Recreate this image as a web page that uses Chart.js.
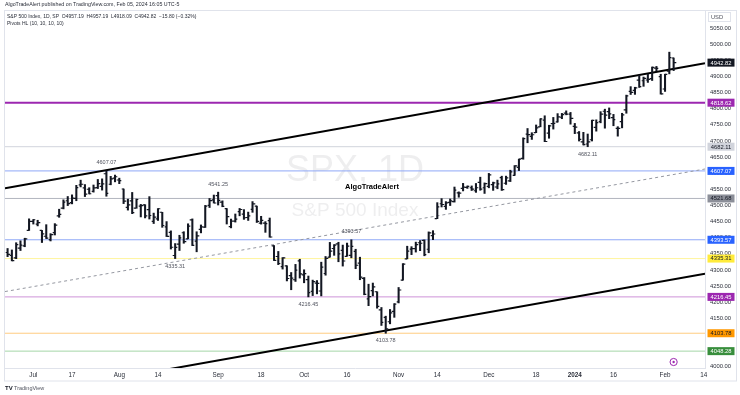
<!DOCTYPE html>
<html>
<head>
<meta charset="utf-8">
<script src="https://cdn.jsdelivr.net/npm/chart.js@4.4.1/dist/chart.umd.min.js"></script>
<style>
html,body{margin:0;padding:0;background:#fff}
#wrap{width:740px;height:395px}
</style>
</head>
<body>
<div id="wrap"><canvas id="c" width="740" height="395"></canvas></div>
<script>
// daily bars, S&P 500, Jun 23 2023 .. Feb 5 2024
const dates = [
 'Jun 23','Jun 26','Jun 27','Jun 28','Jun 29','Jun 30',
 'Jul 3','Jul 5','Jul 6','Jul 7','Jul 10','Jul 11','Jul 12','Jul 13','Jul 14','Jul 17','Jul 18','Jul 19','Jul 20','Jul 21','Jul 24','Jul 25','Jul 26','Jul 27','Jul 28','Jul 31',
 'Aug 1','Aug 2','Aug 3','Aug 4','Aug 7','Aug 8','Aug 9','Aug 10','Aug 11','Aug 14','Aug 15','Aug 16','Aug 17','Aug 18','Aug 21','Aug 22','Aug 23','Aug 24','Aug 25','Aug 28','Aug 29','Aug 30','Aug 31',
 'Sep 1','Sep 5','Sep 6','Sep 7','Sep 8','Sep 11','Sep 12','Sep 13','Sep 14','Sep 15','Sep 18','Sep 19','Sep 20','Sep 21','Sep 22','Sep 25','Sep 26','Sep 27','Sep 28','Sep 29',
 'Oct 2','Oct 3','Oct 4','Oct 5','Oct 6','Oct 9','Oct 10','Oct 11','Oct 12','Oct 13','Oct 16','Oct 17','Oct 18','Oct 19','Oct 20','Oct 23','Oct 24','Oct 25','Oct 26','Oct 27','Oct 30','Oct 31',
 'Nov 1','Nov 2','Nov 3','Nov 6','Nov 7','Nov 8','Nov 9','Nov 10','Nov 13','Nov 14','Nov 15','Nov 16','Nov 17','Nov 20','Nov 21','Nov 22','Nov 24','Nov 27','Nov 28','Nov 29','Nov 30',
 'Dec 1','Dec 4','Dec 5','Dec 6','Dec 7','Dec 8','Dec 11','Dec 12','Dec 13','Dec 14','Dec 15','Dec 18','Dec 19','Dec 20','Dec 21','Dec 22','Dec 26','Dec 27','Dec 28','Dec 29',
 'Jan 2','Jan 3','Jan 4','Jan 5','Jan 8','Jan 9','Jan 10','Jan 11','Jan 12','Jan 16','Jan 17','Jan 18','Jan 19','Jan 22','Jan 23','Jan 24','Jan 25','Jan 26','Jan 29','Jan 30','Jan 31',
 'Feb 1','Feb 2','Feb 5'
];
const opens = [
 4354.17,4344.84,4337.36,4367.48,4374.94,4422.44,
 4450.48,4442.04,4422.62,4404.54,4394.23,4415.55,4467.69,4491.50,4514.61,4508.86,4521.78,4563.87,4554.38,4550.16,4543.39,4555.19,4558.96,4598.26,4565.75,4584.82,
 4578.83,4550.93,4494.27,4513.96,4491.58,4498.03,4501.57,4487.16,4450.69,4458.13,4478.87,4433.79,4416.32,4344.88,4380.28,4415.33,4396.44,4455.16,4389.38,4426.03,4432.75,4500.34,4517.01,
 4530.60,4510.06,4490.35,4434.55,4451.30,4480.98,4473.27,4462.65,4487.78,4497.98,4445.13,4445.41,4452.81,4374.36,4341.74,4310.62,4312.88,4282.63,4269.65,4328.18,
 4284.52,4269.75,4233.83,4259.31,4234.79,4289.02,4339.75,4366.59,4380.94,4360.49,4342.37,4345.23,4357.35,4321.36,4273.85,4210.40,4235.79,4232.42,4175.99,4152.93,4139.39,4171.33,
 4201.27,4268.26,4334.23,4364.27,4366.21,4384.37,4391.41,4364.15,4406.66,4458.97,4505.30,4497.08,4509.55,4511.70,4538.77,4553.04,4555.84,4554.86,4545.55,4571.84,4554.87,
 4559.43,4564.37,4557.25,4586.23,4568.84,4576.20,4593.39,4618.30,4646.20,4721.04,4714.23,4725.58,4743.72,4764.73,4724.29,4753.92,4758.86,4773.45,4786.44,4782.88,
 4745.20,4725.07,4697.42,4690.57,4703.70,4741.93,4759.94,4792.13,4791.18,4772.35,4739.13,4760.10,4796.28,4853.42,4856.80,4888.56,4886.66,4888.91,4892.95,4925.89,4899.19,
 4861.11,4916.06,4957.19
];
const highs = [
 4366.55,4362.06,4384.42,4390.35,4398.39,4458.48,
 4456.46,4454.06,4422.62,4440.39,4412.60,4443.64,4488.34,4517.38,4527.76,4532.85,4562.30,4578.43,4564.74,4555.00,4563.41,4580.62,4582.47,4607.07,4590.16,4594.22,
 4584.62,4550.93,4519.49,4540.34,4519.84,4503.31,4502.44,4527.37,4476.23,4490.33,4478.87,4449.95,4421.17,4381.82,4407.55,4418.59,4443.18,4458.30,4418.46,4439.56,4500.14,4521.65,4532.26,
 4541.25,4514.29,4490.35,4457.81,4473.53,4490.77,4487.11,4479.39,4511.99,4497.98,4466.36,4449.85,4461.03,4375.70,4357.40,4338.51,4313.01,4292.07,4317.27,4333.15,
 4300.58,4281.15,4268.50,4267.13,4324.10,4341.73,4385.46,4378.64,4385.85,4377.10,4383.33,4393.57,4364.20,4339.54,4276.56,4255.84,4259.38,4232.42,4183.60,4156.70,4177.47,4195.55,
 4245.64,4319.72,4373.62,4372.21,4386.26,4391.20,4393.40,4418.03,4421.76,4508.67,4521.17,4511.99,4520.12,4557.11,4542.14,4568.43,4560.31,4560.52,4568.14,4587.64,4569.89,
 4599.39,4572.37,4578.56,4590.74,4590.92,4609.23,4623.71,4643.93,4709.69,4738.57,4725.53,4749.52,4768.69,4778.01,4748.71,4772.94,4784.72,4785.39,4793.30,4788.43,
 4754.33,4729.29,4726.78,4721.49,4764.54,4765.47,4790.80,4798.50,4802.40,4782.34,4744.23,4785.79,4842.07,4868.41,4866.48,4903.68,4898.15,4906.69,4929.31,4931.09,4906.75,
 4906.97,4975.29,4957.19
];
const lows = [
 4341.34,4328.08,4335.00,4360.22,4371.97,4422.44,
 4442.29,4436.61,4385.05,4397.40,4389.92,4408.46,4463.23,4489.36,4499.56,4504.90,4514.59,4557.48,4527.56,4535.79,4541.29,4552.42,4547.58,4528.56,4564.01,4573.14,
 4567.53,4505.75,4485.54,4474.55,4491.15,4464.39,4461.33,4457.92,4443.98,4453.44,4432.19,4403.55,4364.83,4335.31,4360.30,4382.77,4396.44,4375.55,4356.29,4414.98,4431.68,4493.59,4507.39,
 4501.35,4496.01,4442.38,4430.46,4448.38,4467.89,4456.83,4453.52,4478.69,4447.21,4442.11,4416.61,4401.38,4329.17,4316.49,4302.70,4265.98,4238.63,4264.38,4274.86,
 4260.21,4216.45,4220.48,4225.91,4219.55,4283.79,4339.64,4345.34,4325.43,4311.97,4342.37,4337.54,4303.84,4269.69,4223.03,4189.22,4219.43,4181.42,4127.90,4103.78,4132.94,4153.12,
 4197.74,4268.26,4334.23,4347.53,4355.41,4359.76,4343.94,4353.34,4393.82,4458.97,4495.31,4487.83,4499.66,4510.36,4525.51,4545.05,4552.80,4546.32,4540.51,4547.15,4537.24,
 4554.71,4546.72,4551.68,4546.50,4565.22,4574.06,4593.39,4608.09,4643.23,4694.34,4704.69,4725.58,4743.72,4697.82,4708.35,4736.77,4758.45,4768.90,4780.98,4751.99,
 4722.67,4699.71,4687.53,4682.11,4699.82,4730.35,4756.20,4739.58,4768.98,4747.12,4714.82,4740.57,4785.87,4844.05,4844.37,4865.94,4869.34,4881.47,4887.40,4916.95,4845.15,
 4853.52,4907.99,4918.09
];
const closes = [
 4348.33,4328.82,4378.41,4376.86,4396.44,4450.38,
 4455.59,4446.82,4411.59,4398.95,4409.53,4439.26,4472.16,4510.04,4505.42,4522.79,4554.98,4565.72,4534.87,4536.34,4554.64,4567.46,4566.75,4537.41,4582.23,4588.96,
 4576.73,4513.39,4501.89,4478.03,4518.44,4499.38,4467.71,4468.83,4464.05,4489.72,4437.86,4404.33,4370.36,4369.71,4399.77,4387.55,4436.01,4376.31,4405.71,4433.31,4497.63,4514.87,4507.66,
 4515.77,4496.83,4465.48,4451.14,4457.49,4487.46,4461.90,4467.44,4505.10,4450.32,4453.53,4443.95,4402.20,4330.00,4320.06,4337.44,4273.53,4274.51,4299.70,4288.05,
 4288.39,4229.45,4263.75,4258.19,4308.50,4335.66,4358.24,4376.95,4349.61,4327.78,4373.63,4373.20,4314.60,4278.00,4224.16,4217.04,4247.68,4186.77,4137.23,4117.37,4166.82,4193.80,
 4237.86,4317.78,4358.34,4365.98,4378.38,4382.78,4347.35,4415.24,4411.55,4495.70,4502.88,4508.24,4514.02,4547.38,4538.19,4556.62,4559.34,4550.43,4554.89,4550.58,4567.80,
 4594.63,4569.78,4567.18,4549.34,4585.59,4604.37,4622.44,4643.70,4707.09,4719.55,4719.19,4740.56,4768.37,4698.35,4746.75,4754.63,4774.75,4781.58,4783.35,4769.83,
 4742.83,4704.81,4688.68,4697.24,4763.54,4756.50,4783.45,4780.24,4783.83,4765.98,4739.21,4780.94,4839.81,4850.43,4864.60,4868.55,4894.16,4890.97,4927.93,4924.97,4845.65,
 4906.19,4958.61,4942.82
];

// time axis: trading-day index (Jul 3 = 0) and its label
const timeTicks = [0, 9, 20, 29, 43, 53, 63, 73, 85, 94, 106, 117, 126, 135, 147, 156];
const timeLabels = ['Jul','17','Aug','14','Sep','18','Oct','16','Nov','14','Dec','18','2024','16','Feb','14'];
const priceTicks = [4000,4050,4100,4150,4200,4250,4300,4350,4400,4450,4500,4550,4600,4650,4700,4750,4800,4850,4900,4950,5000,5050];

// horizontal levels with their axis tags
const levels      = [4818.62, 4682.11, 4607.07, 4521.68, 4393.57, 4335.31, 4216.45, 4103.78, 4048.28];
const levelLine   = ['#9c27b0','#d1d4dc','#8fa8f7','#b2b5be','#8fa8f7','#fff59d','#ce93d8','#ffcc80','#a5d6a7'];
const levelWidth  = [2, 1, 1, 1, 1, 1, 1, 1, 1];
const levelTag    = ['#9c27b0','#d1d4dc','#2962ff','#8c8f99','#2962ff','#ffeb3b','#9c27b0','#ff9800','#388e3c'];
const levelTagTxt = ['#fff','#131722','#fff','#131722','#fff','#131722','#fff','#131722','#fff'];

// pivot high/low marks
const pivotIdx  = [17, 43, 33, 64, 74, 82, 129];
const pivotVal  = [4607.07, 4541.25, 4335.31, 4216.45, 4393.57, 4103.78, 4682.11];
const pivotHigh = [true, true, false, false, true, false, false];

// trend channel (index, price)
const upperLine = [{x:-6.6, y:4553}, {x:156.3, y:4941}];
const lowerLine = [{x:-6.6, y:3902}, {x:156.3, y:4288}];
const midLine   = [{x:-6.6, y:4233}, {x:156.3, y:4613}];

const lastClose = 4942.82;
const markerIdx = 149;

const FONT = "'Liberation Sans', Arial, sans-serif";
const firstIdx = -6;
const xs = dates.map((d,i)=>i+firstIdx);

function lineSet(pts, color, width, dash, order){
  return {type:'line', data:pts, borderColor:color, borderWidth:width, borderDash:dash||[], pointRadius:0, fill:false, tension:0, order:order};
}

const datasets = [];
datasets.push({
  type:'bar', label:'SPX',
  data: xs.map((x,i)=>({x:x, y:[lows[i], highs[i]]})),
  backgroundColor:'#131722', borderWidth:0, barThickness:1.4, order:0
});
levels.forEach((v,i)=> datasets.push(lineSet([{x:-6.6,y:v},{x:156.3,y:v}], levelLine[i], levelWidth[i], null, 5)));
datasets.push(lineSet(midLine, '#9598a1', 1, [3,3], 4));
datasets.push(lineSet(upperLine, '#000', 2, null, 3));
datasets.push(lineSet(lowerLine, '#000', 2, null, 3));

// background, frame, watermark
const backdrop = {
  id:'backdrop',
  beforeDraw(chart){
    const ctx = chart.ctx;
    ctx.save();
    ctx.fillStyle='#fff'; ctx.fillRect(0,0,chart.width,chart.height);
    ctx.strokeStyle='#e0e3eb'; ctx.lineWidth=1;
    ctx.strokeRect(4.5,10.5,732,370.5);
    ctx.restore();
  },
  beforeDatasetsDraw(chart){
    const {ctx, chartArea:a} = chart;
    const cx = (a.left+a.right)/2;
    ctx.save();
    ctx.fillStyle='rgba(120,123,134,0.13)';
    ctx.textAlign='center'; ctx.textBaseline='middle';
    ctx.font='36px '+FONT;
    ctx.fillText('SPX, 1D', cx, 171);
    ctx.font='19px '+FONT;
    ctx.fillText('S&P 500 Index', cx, 211);
    ctx.restore();
  }
};

// open/close ticks, pivot texts, marker
const ohlcTicks = {
  id:'ohlcTicks',
  afterDatasetsDraw(chart){
    const {ctx, chartArea:a, scales:{x, y}} = chart;
    ctx.save();
    ctx.beginPath(); ctx.rect(a.left, a.top, a.width, a.height); ctx.clip();
    ctx.strokeStyle='#131722'; ctx.lineWidth=1.2;
    ctx.beginPath();
    xs.forEach((v,i)=>{
      const px = Math.round(x.getPixelForValue(v));
      const yo = y.getPixelForValue(opens[i]), yc = y.getPixelForValue(closes[i]);
      ctx.moveTo(px-2.3, yo); ctx.lineTo(px, yo);
      ctx.moveTo(px, yc); ctx.lineTo(px+2.3, yc);
    });
    ctx.stroke();

    ctx.fillStyle='#50535e'; ctx.font='5.5px '+FONT; ctx.textAlign='center'; ctx.textBaseline='middle';
    pivotIdx.forEach((p,i)=>{
      const px = x.getPixelForValue(p), py = y.getPixelForValue(pivotVal[i]);
      ctx.fillText(pivotVal[i].toFixed(2), px, pivotHigh[i] ? py-8 : py+7.5);
    });

    ctx.fillStyle='#000'; ctx.font='bold 7.5px '+FONT;
    ctx.fillText('AlgoTradeAlert', 372, 187);

    const mx = x.getPixelForValue(markerIdx), my = a.bottom-6;
    ctx.strokeStyle='#9c27b0'; ctx.lineWidth=1;
    ctx.beginPath(); ctx.arc(mx, my, 3.6, 0, Math.PI*2); ctx.stroke();
    ctx.fillStyle='#9c27b0';
    ctx.beginPath(); ctx.arc(mx, my, 1.2, 0, Math.PI*2); ctx.fill();
    ctx.restore();
  }
};

// axis tags, header legend, footer
const overlay = {
  id:'overlay',
  afterDraw(chart){
    const {ctx, scales:{y}} = chart;
    ctx.save();
    ctx.font='5.8px '+FONT; ctx.textAlign='center'; ctx.textBaseline='middle';
    function tag(v, bg, fg){
      const py = y.getPixelForValue(v);
      ctx.fillStyle=bg; ctx.fillRect(707.5, py-4, 27, 8);
      ctx.fillStyle=fg; ctx.fillText(v.toFixed(2), 721, py+0.3);
    }
    levels.forEach((v,i)=> tag(v, levelTag[i], levelTagTxt[i]));
    tag(lastClose, '#131722', '#fff');

    // USD box
    ctx.fillStyle='#fff'; ctx.strokeStyle='#e0e3eb';
    ctx.fillRect(708.5,12.5,22,9); ctx.strokeRect(708.5,12.5,22,9);
    ctx.fillStyle='#50535e'; ctx.fillText('USD', 717, 17.2);

    // header
    ctx.textAlign='left';
    ctx.fillStyle='#2a2e39'; ctx.font='5.3px '+FONT;
    ctx.fillText('AlgoTradeAlert published on TradingView.com, Feb 05, 2024 16:05 UTC-5', 5, 5);
    ctx.font='5px '+FONT;
    ctx.fillText('S&P 500 Index, 1D, SP  O4957.19  H4957.19  L4918.09  C4942.82  \u221215.80 (\u22120.32%)', 7, 16.5);
    ctx.fillText('Pivots HL (10, 10, 10, 10)', 7, 23.5);

    // footer
    ctx.fillStyle='#131722'; ctx.font='bold 6px '+FONT;
    ctx.fillText('TV', 5, 388.5);
    ctx.font='5.5px '+FONT; ctx.fillStyle='#50535e';
    ctx.fillText('TradingView', 14, 388.5);
    ctx.restore();
  }
};

new Chart(document.getElementById('c'), {
  type:'bar',
  data:{ datasets: datasets },
  options:{
    responsive:false, animation:false, devicePixelRatio:1,
    layout:{ padding:{ left:5, top:10, right:3, bottom:14 } },
    plugins:{ legend:{display:false}, tooltip:{enabled:false} },
    scales:{
      x:{
        type:'linear', position:'bottom', min:-6.6, max:156.3, offset:false,
        grid:{display:false, drawTicks:false},
        border:{display:true, color:'#e0e3eb'},
        afterBuildTicks: s => { s.ticks = timeTicks.map(v=>({value:v})); },
        afterFit: s => { s.height = 13; },
        ticks:{
          autoSkip:false, maxRotation:0, padding:3, color:'#2a2e39',
          font: c => ({family:FONT, size:6.3, weight: (c.tick && c.tick.value===126) ? 'bold' : 'normal'}),
          callback: v => timeLabels[timeTicks.indexOf(v)]
        }
      },
      y:{
        type:'linear', position:'right', min:3996, max:5106,
        grid:{display:false, drawTicks:false},
        border:{display:true, color:'#e0e3eb'},
        afterBuildTicks: s => { s.ticks = priceTicks.map(v=>({value:v})); },
        afterFit: s => { s.width = 32; },
        ticks:{ padding:5, color:'#2a2e39', font:{family:FONT, size:5.8}, callback: v => v.toFixed(2) }
      }
    }
  },
  plugins:[backdrop, ohlcTicks, overlay]
});
</script>
</body>
</html>
